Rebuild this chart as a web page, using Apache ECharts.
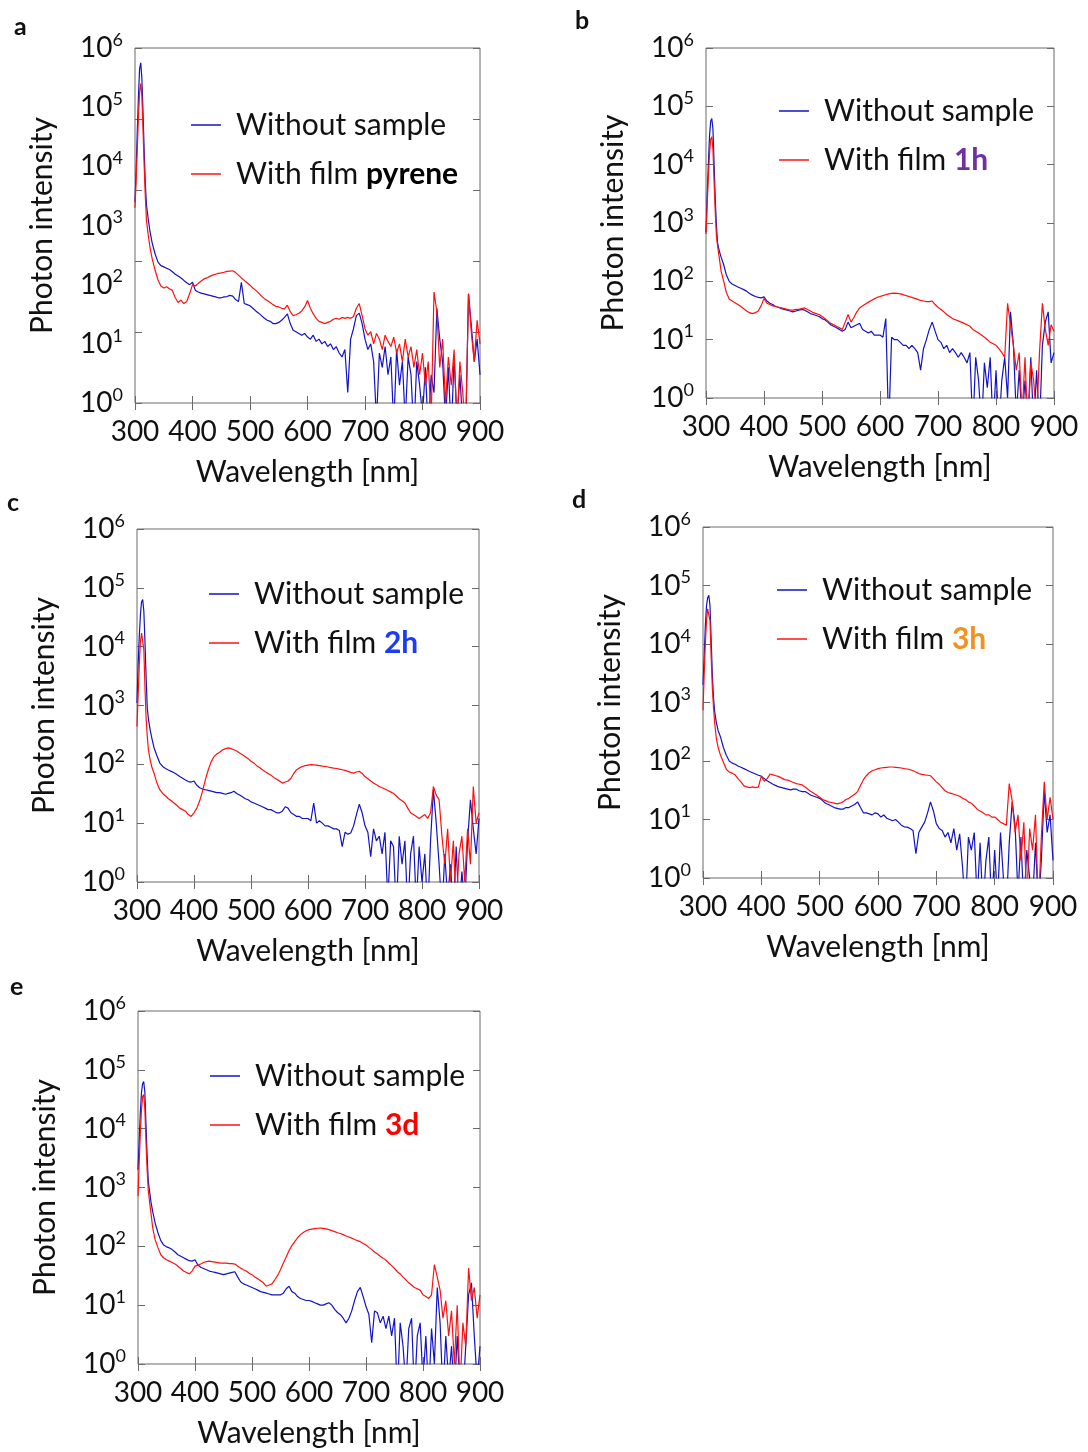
<!DOCTYPE html>
<html>
<head>
<meta charset="utf-8">
<script src="https://cdn.jsdelivr.net/npm/echarts@6/dist/echarts.min.js"></script>
<style>
  html, body { margin: 0; padding: 0; background: #fff; }
  #chart { width: 1088px; height: 1452px; }
</style>
</head>
<body>
<div id="chart"></div>
<script>
// wavelength grid shared by all spectra [nm]
const wavelengths = [300, 302, 304, 306, 308, 310, 312, 314, 316, 318, 320, 323, 326, 330, 335, 340, 345,
  350, 355, 360, 365, 370, 375, 380, 385, 390, 395,
  400, 405, 410, 415, 420, 425, 430, 435, 440, 445,
  450, 455, 460, 465, 470, 475, 480, 485, 490, 495,
  500, 505, 510, 515, 520, 525, 530, 535, 540, 545,
  550, 555, 560, 565, 570, 575, 580, 585, 590, 595,
  600, 605, 610, 615, 620, 625, 630, 635, 640, 645,
  650, 655, 660, 665, 670, 675, 680, 685, 690, 695,
  700, 705, 710, 715, 720, 725, 730, 735, 740, 745,
  750, 755, 760, 765, 770, 775, 780, 785, 790, 795,
  800, 805, 810, 815, 820, 825, 830, 835, 840, 845,
  850, 855, 860, 865, 870, 875, 880, 885, 890, 895,
  900];

// panel a
const blankA = [2500, 9000, 40000, 150000, 450000, 560000, 300000, 80000, 18000, 5000, 2200, 1300, 800, 500, 330, 240, 210,
  200, 190, 180, 165, 150, 140, 130, 118, 108, 100,
  110, 80, 75, 72, 70, 68, 66, 64, 62, 60,
  60, 62, 63, 66, 64, 56, 52, 110, 48, 46,
  44, 40, 36, 33, 30, 27, 25, 24, 22, 22,
  23, 25, 28, 32, 22, 17, 16, 15, 14, 15,
  13, 12, 14, 11, 12, 10, 11, 9, 10, 8,
  9, 7, 6, 8, 1.5, 12, 18, 30, 33, 22,
  12, 8, 10, 5, 0.5, 7, 4, 9, 3, 6,
  0.4, 8, 2, 5, 0.5, 6, 3, 0.3, 5, 2,
  0.6, 4, 0.3, 3, 1.5, 40, 12, 5, 0.5, 4,
  0.3, 6, 0.5, 3, 0.4, 0.3, 70, 20, 5, 12,
  3];
const filmA = [2000, 6000, 20000, 70000, 180000, 250000, 150000, 40000, 10000, 3000, 1200, 700, 430, 270, 175, 120, 95,
  88, 92, 85, 80, 60, 50, 55, 48, 52, 70,
  100, 95, 105, 115, 125, 130, 138, 145, 150, 155,
  158, 162, 168, 170, 172, 160, 145, 130, 118, 108,
  98, 88, 80, 72, 64, 58, 54, 50, 46, 43,
  42, 40, 39, 45, 35, 30, 31, 33, 36, 42,
  54, 40, 32, 27, 24, 23, 22, 23, 24, 26,
  27, 26, 28, 27, 28, 27, 29, 40, 48, 30,
  18, 14, 16, 10, 15, 12, 8, 14, 11, 9,
  13, 7, 10, 5, 12, 6, 9, 4, 8, 3,
  7, 2, 5, 0.5, 75, 35, 4, 12, 1, 6,
  2, 8, 0.4, 5, 1.5, 0.3, 70, 15, 5, 25,
  10];

// panel b
const blankB = [700, 3000, 10000, 30000, 55000, 62000, 40000, 10000, 2500, 900, 450, 330, 260, 200, 130, 100, 90,
  85, 80, 76, 72, 68, 62, 58, 55, 53, 52,
  54, 46, 42, 40, 37, 36, 34, 33, 32, 31,
  30, 31, 32, 33, 32, 30, 28, 27, 26, 25,
  23, 22, 20, 18, 17, 16, 15, 14, 15, 20,
  16, 17, 18, 19, 15, 14, 13, 14, 12, 12,
  12, 11, 23, 0.3, 11, 10, 10, 9, 8, 8,
  7, 8, 7, 6, 3, 7, 10, 15, 20, 14,
  10, 9, 7, 8, 6, 7, 6, 5, 6, 5,
  4, 6, 0.3, 5, 2, 0.3, 4, 1.5, 5, 0.3,
  3, 0.3, 2, 5, 1, 30, 8, 0.5, 3, 0.4,
  2, 0.4, 5, 0.3, 3, 0.3, 8, 20, 30, 4,
  6];
const filmB = [650, 2000, 6000, 15000, 27000, 30000, 18000, 5000, 1500, 600, 400, 250, 150, 105, 65, 50, 46,
  43, 40, 37, 34, 31, 29, 28, 29, 31, 38,
  51, 42, 40, 38, 37, 36, 35, 34, 33, 32,
  32, 33, 33, 34, 35, 33, 31, 29, 28, 27,
  25, 23, 21, 19, 18, 17, 16, 15, 20, 27,
  20, 24, 30, 35, 38, 41, 44, 47, 50, 53,
  55, 57, 59, 61, 62, 63, 62, 61, 59, 57,
  55, 53, 51, 49, 47, 46, 45, 45, 46, 40,
  36, 33, 30, 27, 25, 23, 22, 21, 20, 19,
  18, 17, 15, 14, 13, 12, 11, 10, 9, 8.5,
  8, 7, 6, 5, 42, 18, 8, 3, 6, 0.5,
  5, 0.3, 4, 2, 0.4, 6, 42, 15, 8, 18,
  14];

// panel c
const blankC = [1100, 5000, 15000, 35000, 58000, 63000, 40000, 12000, 3000, 900, 600, 390, 280, 190, 140, 105, 92,
  85, 80, 76, 72, 67, 62, 58, 54, 51, 50,
  52, 44, 40, 38, 37, 36, 35, 34, 33, 33,
  32, 31, 32, 33, 35, 32, 30, 28, 26, 25,
  23, 22, 21, 20, 19, 18, 17, 17, 16, 15,
  15, 16, 19, 18, 15, 14, 13, 13, 12, 12,
  12, 11, 22, 10, 11, 10, 9, 9, 8.5, 8,
  8, 7.5, 4, 7, 6.5, 6.8, 9, 14, 21, 15,
  9, 7, 2.7, 8, 5, 6, 3, 7, 0.5, 5,
  4, 0.3, 6, 2, 5, 0.3, 3, 6, 0.4, 4,
  1, 3, 0.3, 5, 37, 10, 2, 0.3, 3, 0.5,
  2, 0.3, 4, 0.3, 1.5, 0.4, 5, 25, 8, 3,
  12];
const filmC = [440, 1500, 5000, 12000, 17000, 18000, 9000, 2000, 600, 300, 177, 120, 90, 70, 48, 37, 32,
  29, 26, 24, 22, 20, 18, 17, 16, 14, 13,
  15, 18, 24, 35, 55, 80, 110, 135, 150, 160,
  175, 185, 190, 185, 177, 168, 156, 145, 135, 125,
  113, 105, 95, 88, 81, 75, 70, 65, 60, 56,
  52, 48, 50, 52, 58, 70, 81, 87, 92, 95,
  97, 99, 98, 97, 95, 93, 92, 90, 88, 86,
  85, 83, 81, 79, 76, 73, 71, 74, 76, 70,
  62, 57, 52, 48, 45, 42, 40, 38, 36, 34,
  32, 29, 26, 24, 22, 18, 15, 14, 13, 12,
  13, 14, 12, 15, 42, 30, 25, 6, 2, 8,
  1, 5, 0.4, 3, 6, 1, 8, 2, 42, 10,
  15];

// panel d
const blankD = [2000, 6000, 20000, 45000, 62000, 68000, 45000, 12000, 3000, 1200, 700, 450, 330, 258, 170, 125, 100,
  92, 88, 82, 78, 74, 70, 66, 63, 60, 57,
  55, 50, 46, 43, 40, 38, 36, 35, 34, 33,
  32, 33, 33, 31, 30, 30, 28, 26, 25, 24,
  23, 21, 19, 18, 17, 16, 15.5, 15, 15, 16,
  16, 17, 18, 20, 16, 13, 13, 12.5, 12, 13,
  12.5, 11, 12, 10.5, 10, 9.5, 10, 9, 8, 7.5,
  7.4, 7, 6.5, 2.6, 6, 7.4, 9, 13, 20, 14,
  8.5, 7, 6.5, 5, 6, 4, 7, 3, 5.7, 1.5,
  0.3, 5, 3, 6, 0.4, 4, 0.3, 2, 5, 0.3,
  3, 0.4, 6, 1, 0.3, 4, 20, 8, 0.5, 5,
  0.3, 3, 1, 0.4, 4, 0.3, 2, 30, 6, 12,
  2];
const filmD = [740, 3000, 10000, 25000, 40000, 43000, 25000, 6000, 1800, 830, 450, 240, 170, 125, 95, 72, 65,
  62, 58, 50, 44, 38, 36, 35, 36, 35, 36,
  55, 45, 50, 60, 58, 56, 54, 51, 48, 47,
  45, 43, 41, 40, 39, 36, 33, 30, 28, 26,
  24, 22, 21, 20, 19.5, 19, 18.5, 19, 20, 22,
  23, 25, 27, 30, 38, 48, 56, 63, 68, 71,
  74, 76, 77, 78, 79, 79, 78, 77, 76, 74,
  73, 71, 68, 65, 61, 59, 58, 57, 56, 50,
  44, 40, 35, 31, 29, 28, 27, 26, 25, 23,
  22, 20, 19, 17, 15, 14, 13, 12, 12, 11,
  11, 10, 9, 8.5, 8, 41, 21, 6, 12, 2,
  9, 0.4, 7, 3, 12, 0.3, 5, 44, 10, 24,
  10];

// panel e
const blankE = [2000, 6000, 18000, 40000, 58000, 63000, 42000, 12000, 3500, 1300, 900, 550, 380, 250, 170, 125, 105,
  98, 94, 88, 80, 72, 68, 64, 60, 57, 56,
  59, 48, 44, 42, 40, 38, 37, 36, 35, 34,
  33, 34, 35, 36, 37, 30, 25, 23, 22, 21,
  20, 19, 18, 17, 16.5, 16, 15.5, 15, 15, 15,
  15, 16, 19, 21, 17, 16, 14, 13, 12.5, 12,
  12, 11.6, 11, 10.5, 10, 10, 10.5, 11, 10, 8.5,
  7.5, 6.9, 6, 5, 6, 8, 12, 17, 20, 14,
  9.5, 7, 2.3, 8, 7.4, 5, 6.5, 4, 6.5, 3,
  6, 0.3, 5, 2, 0.4, 4, 6, 0.3, 3, 5,
  0.5, 3, 0.3, 4, 1, 20, 5, 0.3, 3, 0.5,
  2, 0.3, 3, 0.4, 0.3, 2, 15, 24, 3, 0.5,
  2];
const filmE = [710, 2500, 8000, 20000, 35000, 38000, 22000, 6000, 2000, 900, 600, 350, 200, 130, 95, 72, 64,
  59, 56, 53, 50, 46, 42, 38, 36, 34, 38,
  46, 48, 50, 53, 55, 56, 55, 54, 53, 52,
  52, 52, 51, 51, 50, 46, 43, 40, 38, 35,
  33, 30, 28, 26, 24, 21, 22, 23, 27, 32,
  40, 52, 66, 85, 103, 120, 140, 158, 172, 184,
  192, 196, 200, 203, 204, 202, 198, 192, 185, 178,
  170, 165, 158, 150, 144, 138, 131, 125, 120, 112,
  105, 96, 88, 80, 74, 68, 63, 58, 52, 47,
  42, 37, 34, 30, 27, 24, 22, 20, 19, 18,
  15, 14, 13, 15, 49, 30, 18, 6, 12, 3,
  8, 1, 10, 0.4, 5, 2, 43, 12, 20, 6,
  15];

const yTickLabels = ['0', '1', '2', '3', '4', '5', '6'];

const panels = [
  { letter: 'a', blank: blankA, film: filmA, tag: 'pyrene', tagColor: '#000000', sideTicks: 5,
    grid: { left: 135, top: 48, width: 345, height: 355 }, legend: { left: 191, top: 109 }, letterPos: [14, 14] },
  { letter: 'b', blank: blankB, film: filmB, tag: '1h', tagColor: '#7030a0', sideTicks: 6,
    grid: { left: 706, top: 48, width: 348, height: 350 }, legend: { left: 779, top: 95 }, letterPos: [575, 8] },
  { letter: 'c', blank: blankC, film: filmC, tag: '2h', tagColor: '#1a3cf2', sideTicks: 6,
    grid: { left: 137, top: 529, width: 342, height: 353 }, legend: { left: 209, top: 578 }, letterPos: [7, 490] },
  { letter: 'd', blank: blankD, film: filmD, tag: '3h', tagColor: '#f39020', sideTicks: 6,
    grid: { left: 703, top: 527, width: 350, height: 351 }, legend: { left: 777, top: 574 }, letterPos: [572, 487] },
  { letter: 'e', blank: blankE, film: filmE, tag: '3d', tagColor: '#ff0000', sideTicks: 6,
    grid: { left: 138, top: 1011, width: 342, height: 353 }, legend: { left: 210, top: 1060 }, letterPos: [10, 974] }
];

const FONT = 'Lato';
const FRAME = '#6a6a6a';
const BLUE = '#1212c8';
const RED = '#ff1010';

const pairs = (vals) => wavelengths.map((w, i) => [w, vals[i]]);

const grids = [], xAxes = [], yAxes = [], series = [], legends = [], graphics = [];

panels.forEach((p, i) => {
  grids.push(Object.assign({ show: true, borderColor: FRAME, borderWidth: 1, backgroundColor: 'transparent' }, p.grid));

  // bottom axis with labels
  xAxes.push({
    type: 'value', gridIndex: i, min: 300, max: 900, interval: 100, position: 'bottom',
    name: 'Wavelength [nm]', nameLocation: 'middle', nameGap: 54,
    nameTextStyle: { fontFamily: FONT, fontSize: 30, color: '#111' },
    axisLine: { show: false },
    axisTick: { inside: true, length: 7, lineStyle: { color: FRAME } },
    axisLabel: { fontFamily: FONT, fontSize: 28, color: '#111', margin: 15 },
    splitLine: { show: false }
  });
  // top axis, ticks only
  xAxes.push({
    type: 'value', gridIndex: i, min: 300, max: 900, interval: 100, position: 'top',
    axisLine: { show: false },
    axisTick: { inside: true, length: 7, lineStyle: { color: FRAME } },
    axisLabel: { show: false }, splitLine: { show: false }
  });

  // main log axis with labels
  yAxes.push({
    type: 'log', logBase: 10, gridIndex: i, min: 1, max: 1e6, splitNumber: 6, position: 'left',
    name: 'Photon intensity', nameLocation: 'middle', nameGap: 78,
    nameTextStyle: { fontFamily: FONT, fontSize: 30, color: '#111' },
    axisLine: { show: false }, axisTick: { show: false }, splitLine: { show: false },
    axisLabel: {
      margin: 12,
      formatter: (v) => '{b|10}{s|' + yTickLabels[Math.round(Math.log10(v))] + '}',
      rich: {
        b: { fontFamily: FONT, fontSize: 28, color: '#111', lineHeight: 34 },
        s: { fontFamily: FONT, fontSize: 18, color: '#111', verticalAlign: 'top', lineHeight: 20 }
      }
    }
  });
  // left and right box ticks
  ['left', 'right'].forEach((pos) => {
    yAxes.push({
      type: 'value', gridIndex: i, min: 0, max: p.sideTicks, interval: 1, position: pos,
      axisLine: { show: false }, axisLabel: { show: false }, splitLine: { show: false },
      axisTick: { inside: true, length: 7, lineStyle: { color: FRAME } }
    });
  });

  const filmName = 'With film ' + p.tag;
  series.push({
    name: 'Without sample', type: 'line', xAxisIndex: 2 * i, yAxisIndex: 3 * i,
    data: pairs(p.blank), showSymbol: false, symbol: 'none', clip: true,
    lineStyle: { color: BLUE, width: 1.2 }, itemStyle: { color: BLUE }, animation: false
  });
  series.push({
    name: filmName, type: 'line', xAxisIndex: 2 * i, yAxisIndex: 3 * i,
    data: pairs(p.film), showSymbol: false, symbol: 'none', clip: true,
    lineStyle: { color: RED, width: 1.2 }, itemStyle: { color: RED }, animation: false
  });

  legends.push({
    data: ['Without sample', filmName], orient: 'vertical', padding: 0,
    left: p.legend.left, top: p.legend.top, itemGap: 17,
    icon: 'rect', itemWidth: 30, itemHeight: 1.5, selectedMode: false,
    formatter: (name) => name === filmName ? 'With film {t|' + p.tag + '}' : name,
    textStyle: {
      fontFamily: FONT, fontSize: 30, color: '#111', lineHeight: 32, padding: [0, 0, 0, 10],
      rich: { t: { fontFamily: FONT, fontSize: 30, fontWeight: 'bold', color: p.tagColor, lineHeight: 32 } }
    }
  });

  graphics.push({
    type: 'text', left: p.letterPos[0], top: p.letterPos[1],
    style: { text: p.letter, font: 'bold 25px ' + FONT, fill: '#111' }
  });
});

const chart = echarts.init(document.getElementById('chart'));
chart.setOption({
  backgroundColor: '#fff',
  animation: false,
  grid: grids,
  xAxis: xAxes,
  yAxis: yAxes,
  legend: legends,
  series: series,
  graphic: graphics
});
window.addEventListener('resize', () => chart.resize());
</script>
</body>
</html>
